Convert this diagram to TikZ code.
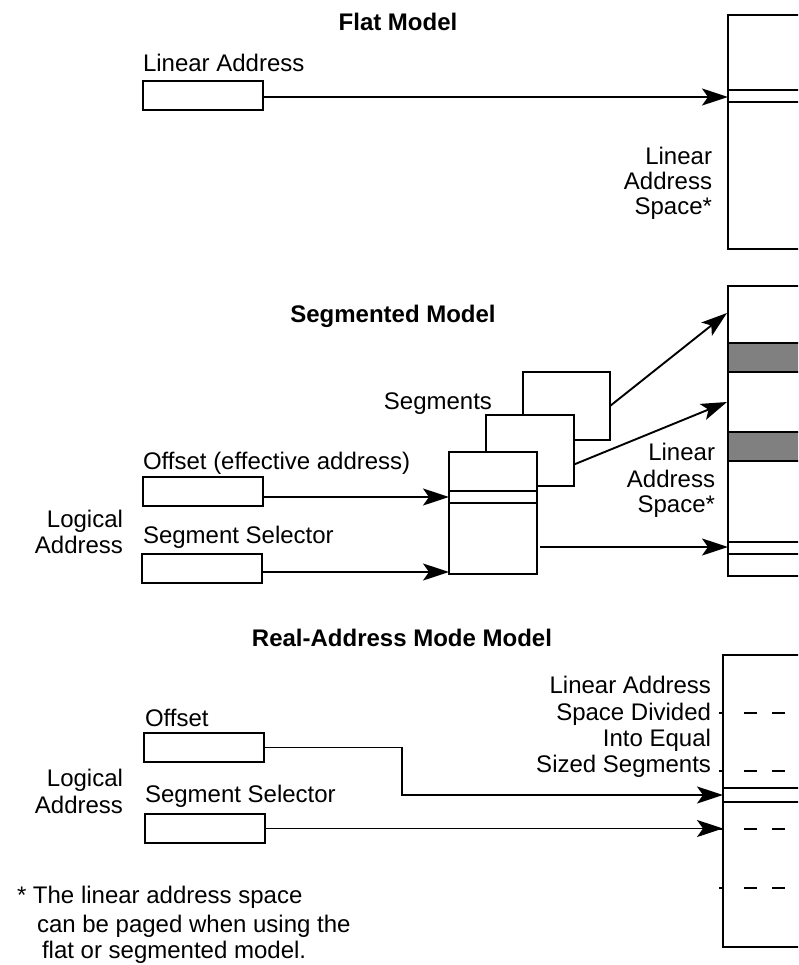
\documentclass[tikz,border=0pt]{standalone}
\usepackage{fontspec}
\setmainfont{Liberation Sans}
\usetikzlibrary{arrows.meta,calc}
\definecolor{bandgray}{HTML}{808080}
\begin{document}
\begin{tikzpicture}[x=1pt,y=-1pt,
  line width=1.9pt,
  every node/.style={inner sep=0pt, outer sep=0pt, font=\fontsize{24}{26}\selectfont},
  lbl/.style={anchor=base west},
  rlbl/.style={anchor=base east},
  ttl/.style={anchor=base, font=\fontsize{24}{26}\selectfont\bfseries},
  reg/.style={draw, minimum width=120pt, minimum height=29pt, anchor=north west},
  segbox/.style={draw, fill=white, anchor=north west},
  lspace/.style={draw, anchor=north west, minimum width=100pt},
  arr/.style={-{Stealth[length=26pt,width=17pt,inset=6pt]}},
  band/.style={draw, fill=bandgray},
  dashln/.style={dash pattern=on 13pt off 15pt},
]
\useasboundingbox (0,0) rectangle (798,965);
\clip (0,0) rectangle (798,965);

% ---------------- Flat model ----------------
\node[ttl] (tflat) at (398,31) {Flat Model};
\node[lbl] (tla) at (143,72) {Linear Address};
\node[reg] (la) at (143,81) {};
\node[lspace, minimum height=234pt] (flatsp) at (728,15) {};
\draw (728,90) -- (810,90);
\draw (728,102) -- (810,102);
\coordinate (lao) at ([yshift=-1.5pt]la.east);
\draw[arr] (lao) -- (lao -| flatsp.west);
\node[rlbl] at (712,165) {Linear};
\node[rlbl] at (712,190) {Address};
\node[rlbl] at (712,215) {Space*};

% ---------------- Segmented model ----------------
\node[ttl] (tseg) at (393,322) {Segmented Model};
\node[lspace, minimum height=290pt] (segsp) at (728,286) {};
\draw[band] (728,343) rectangle (810,372);
\draw[band] (728,432) rectangle (810,461);
\draw (728,542) -- (810,542);
\draw (728,554) -- (810,554);
\node[rlbl] at (715,460) {Linear};
\node[rlbl] at (715,487) {Address};
\node[rlbl] at (715,512) {Space*};

\node[segbox, minimum width=87pt, minimum height=68pt] (s3) at (523,372) {};
\node[segbox, minimum width=88pt, minimum height=71pt] (s2) at (486,415) {};
\node[segbox, minimum width=88pt, minimum height=122pt] (s1) at (449,452) {};
\draw (449,491) -- (537,491);
\draw (449,503) -- (537,503);
\node[rlbl] at (492,409) {Segments};

\coordinate (t3) at (727,313);
\coordinate (t2) at (727,402);
\draw[arr] (s3.east) -- (t3);
\coordinate (s2o) at ([yshift=-14pt]s2.east);
\draw[arr] (s2o) -- (t2);
\coordinate (s1o) at ([yshift=-34pt,xshift=3pt]s1.east);
\draw[arr] (s1o) -- (s1o -| segsp.west);

\node[lbl] at (143,469) {Offset (effective address)};
\node[reg] (off) at (143,477) {};
\coordinate (offo) at ([yshift=-5.5pt]off.east);
\draw[arr] (offo) -- (offo -| s1.west);
\node[lbl] at (143,543) {Segment Selector};
\node[reg] (sel) at (142,554) {};
\coordinate (selo) at ([yshift=-3.5pt]sel.east);
\draw[arr] (selo) -- (selo -| s1.west);
\node[rlbl] at (123,527) {Logical};
\node[rlbl] at (123,553) {Address};

% ---------------- Real-address mode model ----------------
\node[ttl] (treal) at (402,646) {Real-Address Mode Model};
\node[lspace, minimum height=292pt] (realsp) at (723,655) {};
\foreach \yy in {713,771,829,888} {
  \draw (719,\yy) -- (724,\yy);
  \draw[dashln] (744,\yy) -- (810,\yy);
}
\draw (723,788) -- (810,788);
\draw (723,802) -- (810,802);
\node[rlbl] at (711,693) {Linear Address};
\node[rlbl] at (711,720) {Space Divided};
\node[rlbl] at (711,746) {Into Equal};
\node[rlbl] at (711,772) {Sized Segments};

\node[lbl] at (145,726) {Offset};
\node[reg] (roff) at (144,733) {};
\coordinate (bend) at (402,795);
\draw[arr] (roff.east) -| (bend) -- (bend -| realsp.west);
\node[lbl] at (145,802) {Segment Selector};
\node[reg] (rsel) at (145,814) {};
\draw[arr] (rsel.east) -- (rsel.east -| realsp.west);
\node[rlbl] at (123,786) {Logical};
\node[rlbl] at (123,813) {Address};

% ---------------- Footnote ----------------
\node[lbl] at (17,903) {* The linear address space};
\node[lbl] at (37,932) {can be paged when using the};
\node[lbl] at (42,958) {flat or segmented model.};
\end{tikzpicture}
\end{document}
